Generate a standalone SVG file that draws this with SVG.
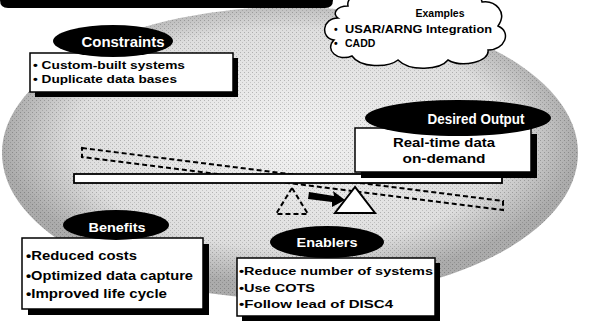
<svg xmlns="http://www.w3.org/2000/svg" width="589" height="322" viewBox="0 0 589 322">
<style>
.lbl{font-family:"Liberation Sans",Arial,sans-serif;font-weight:bold;fill:#fff;text-anchor:middle}
.txt{font-family:"Liberation Sans",Arial,sans-serif;font-weight:bold;fill:#000}
.box{fill:#fff;stroke:#000;stroke-width:1.5}
.shadow{fill:#000}
.oval{fill:#000}
.dash{fill:none;stroke:#000;stroke-width:2;stroke-dasharray:5 3}
</style>
<defs>
<radialGradient id="bg" cx="50%" cy="45%" r="50%">
<stop offset="0" stop-color="#f2f2f2"/>
<stop offset="0.75" stop-color="#dedede"/>
<stop offset="1" stop-color="#ababab"/>
</radialGradient>
<pattern id="stip" width="4" height="4" patternUnits="userSpaceOnUse">
<rect x="0" y="0" width="1" height="1" fill="#000" opacity="0.22"/>
<rect x="2" y="2" width="1" height="1" fill="#000" opacity="0.15"/>
</pattern>
</defs>
<g id="background">
<ellipse cx="290" cy="153" rx="288" ry="146" fill="url(#bg)"/>
<ellipse cx="290" cy="153" rx="288" ry="146" fill="url(#stip)"/>
</g>
<g id="banner">
<path d="M0,-5 H333 V0 Q333,8 325,8 H8 Q0,8 0,0 Z" fill="#000"/>
</g>
<g id="examples">
<path d="M338,18 C322,18 320,38 334,40 C324,50 338,62 352,56 C360,68 388,68 398,60 C410,72 440,70 448,60 C462,68 490,62 488,50 C505,50 512,32 498,26 C508,12 495,0 482,2 C480,-10 455,-12 445,-4 C430,-12 400,-12 392,-4 C375,-12 345,-8 348,6 C336,6 332,14 338,18 Z" fill="#fff" stroke="#000" stroke-width="1.5"/>
<text class="txt" x="440" y="17" font-size="10.5" text-anchor="middle">Examples</text>
<text class="txt" x="334" y="33" font-size="10.5">•</text>
<text class="txt" x="345" y="33" font-size="10.5" textLength="147" lengthAdjust="spacingAndGlyphs">USAR/ARNG Integration</text>
<text class="txt" x="334" y="47" font-size="10.5">•</text>
<text class="txt" x="345" y="47" font-size="10.5">CADD</text>
</g>
<g id="connectors">
<polygon class="dash" points="82,148 503,201 503,210 82,157"/>
<polygon class="dash" points="292,188 276,214 308,214"/>
<rect x="74" y="174" width="428" height="9" fill="#fff" stroke="#000" stroke-width="1.8"/>
<polygon points="355,187 335,213 375,213" fill="#fff" stroke="#000" stroke-width="2"/>
<polygon points="309,192 334,196 333,191 345,200 332,207 332,202 308,199" fill="#000"/>
</g>
<g id="constraints">
<rect class="shadow" x="35" y="58" width="203" height="39"/>
<rect class="box" x="30" y="53" width="203" height="39"/>
<ellipse class="oval" cx="113" cy="41" rx="60" ry="16"/>
<text class="lbl" x="123" y="47" font-size="15" textLength="83" lengthAdjust="spacingAndGlyphs">Constraints</text>
<text class="txt" x="33" y="69" font-size="11" textLength="152" lengthAdjust="spacingAndGlyphs">• Custom-built systems</text>
<text class="txt" x="33" y="83" font-size="11" textLength="144" lengthAdjust="spacingAndGlyphs">• Duplicate data bases</text>
</g>
<g id="desired-output">
<rect class="shadow" x="361" y="134" width="176" height="44"/>
<rect class="box" x="355" y="128" width="176" height="44"/>
<ellipse class="oval" cx="458" cy="118" rx="93" ry="18"/>
<text class="lbl" x="476" y="124" font-size="15" textLength="97" lengthAdjust="spacingAndGlyphs">Desired Output</text>
<text class="txt" x="444" y="147" font-size="13" text-anchor="middle" textLength="102" lengthAdjust="spacingAndGlyphs">Real-time data</text>
<text class="txt" x="444" y="163" font-size="13" text-anchor="middle" textLength="83" lengthAdjust="spacingAndGlyphs">on-demand</text>
</g>
<g id="benefits">
<rect class="shadow" x="28" y="244" width="181" height="71"/>
<rect class="box" x="22" y="238" width="181" height="71"/>
<ellipse class="oval" cx="116" cy="225" rx="53" ry="15"/>
<text class="lbl" x="117" y="232" font-size="13" textLength="57" lengthAdjust="spacingAndGlyphs">Benefits</text>
<text class="txt" x="26" y="260" font-size="13" textLength="111" lengthAdjust="spacingAndGlyphs">•Reduced costs</text>
<text class="txt" x="26" y="280" font-size="13" textLength="167" lengthAdjust="spacingAndGlyphs">•Optimized data capture</text>
<text class="txt" x="26" y="298" font-size="13" textLength="141" lengthAdjust="spacingAndGlyphs">•Improved life cycle</text>
</g>
<g id="enablers">
<rect class="shadow" x="242" y="263" width="198" height="58"/>
<rect class="box" x="237" y="258" width="198" height="58"/>
<ellipse class="oval" cx="327" cy="242" rx="57" ry="16"/>
<text class="lbl" x="327" y="247" font-size="13" textLength="61" lengthAdjust="spacingAndGlyphs">Enablers</text>
<text class="txt" x="239" y="275" font-size="11.5" textLength="194" lengthAdjust="spacingAndGlyphs">•Reduce number of systems</text>
<text class="txt" x="239" y="292" font-size="11.5" textLength="76" lengthAdjust="spacingAndGlyphs">•Use COTS</text>
<text class="txt" x="239" y="308" font-size="11.5" textLength="154" lengthAdjust="spacingAndGlyphs">•Follow lead of DISC4</text>
</g>
</svg>
